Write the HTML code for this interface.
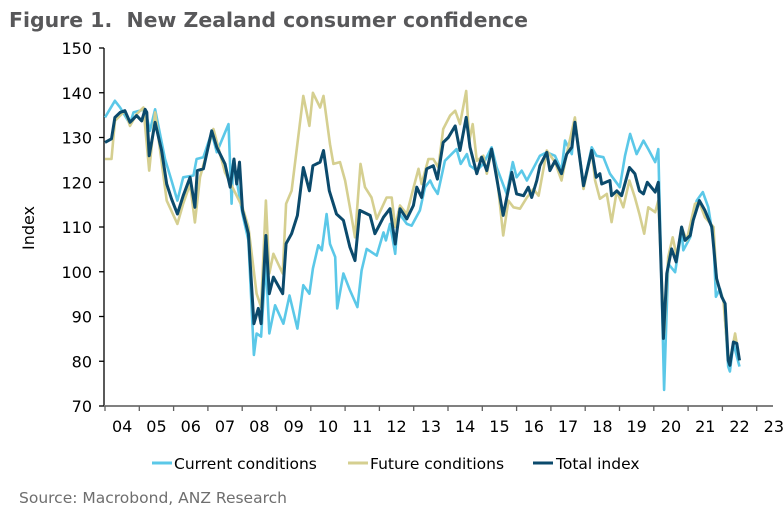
<!DOCTYPE html>
<html><head><meta charset="utf-8"><style>
html,body{margin:0;padding:0;background:#fff;}
svg{display:block;font-family:"DejaVu Sans","Liberation Sans",sans-serif;}
</style></head><body>
<svg id="chart" width="784" height="518" viewBox="0 0 784 518">
<text x="9" y="27" font-size="20" font-weight="bold" fill="#58585a" textLength="519" lengthAdjust="spacingAndGlyphs">Figure 1.&#160; New Zealand consumer confidence</text>
<text transform="translate(34,228) rotate(-90)" text-anchor="middle" font-size="16" fill="#000">Index</text>
<g id="yaxis"></g>
<g id="xaxis"></g>
<g id="series"></g>
<g>
<g><line x1="152" y1="463" x2="172" y2="463" stroke="#5bc8e8" stroke-width="3"/><text x="174" y="469" font-size="15.5">Current conditions</text></g>
<g><line x1="348" y1="463" x2="368" y2="463" stroke="#d5cf90" stroke-width="3"/><text x="370" y="469" font-size="15.5">Future conditions</text></g>
<g><line x1="533" y1="463" x2="553" y2="463" stroke="#0b4a6c" stroke-width="3"/><text x="556" y="469" font-size="15.5">Total index</text></g>
</g>
<text x="19" y="503" font-size="15.5" fill="#6e6e6e">Source: Macrobond, ANZ Research</text>
</svg>
<script>
const yTicks=[70,80,90,100,110,120,130,140,150];
const xYears=[2004,2005,2006,2007,2008,2009,2010,2011,2012,2013,2014,2015,2016,2017,2018,2019,2020,2021,2022,2023];
const xLabels=["04","05","06","07","08","09","10","11","12","13","14","15","16","17","18","19","20","21","22","23"];

const currentDates=[2004.00,2004.29,2004.44,2004.73,2004.83,2005.17,2005.31,2005.46,2005.75,2005.94,2006.11,2006.28,2006.58,2006.67,2006.87,2007.11,2007.26,2007.60,2007.69,2007.74,2008.01,2008.18,2008.34,2008.42,2008.55,2008.69,2008.79,2008.96,2009.20,2009.38,2009.61,2009.78,2009.96,2010.06,2010.22,2010.32,2010.46,2010.56,2010.71,2010.77,2010.95,2011.14,2011.36,2011.48,2011.63,2011.92,2012.12,2012.19,2012.31,2012.46,2012.55,2012.80,2012.94,2013.18,2013.33,2013.48,2013.57,2013.70,2013.91,2014.25,2014.37,2014.55,2014.64,2014.84,2015.03,2015.27,2015.42,2015.71,2015.89,2016.00,2016.15,2016.30,2016.68,2016.88,2017.12,2017.31,2017.41,2017.61,2017.70,2017.95,2018.19,2018.33,2018.53,2018.72,2019.01,2019.16,2019.31,2019.50,2019.70,2019.84,2020.04,2020.13,2020.30,2020.42,2020.62,2020.81,2020.86,2021.06,2021.25,2021.43,2021.59,2021.74,2021.81,2021.93,2022.05,2022.17,2022.22,2022.32,2022.50];
const currentValues=[134.5,138.2,136.7,133.0,135.6,136.3,131.5,136.3,125.2,120.4,115.9,121.1,121.5,125.2,125.6,131.1,126.7,133.0,115.2,124.8,112.9,107.0,81.4,86.2,85.5,102.5,86.2,92.5,88.4,94.7,87.3,97.0,95.1,100.7,105.9,104.8,112.9,106.2,103.3,91.8,99.6,95.9,92.1,100.3,105.1,103.6,108.8,107.0,110.7,104.0,113.3,110.7,110.3,113.7,118.9,120.4,118.9,117.4,124.8,127.4,124.1,126.3,123.7,122.6,124.1,127.8,123.3,117.4,124.5,121.1,122.6,120.4,125.9,126.7,125.9,122.6,129.3,126.3,134.1,119.2,127.8,125.9,125.6,121.9,118.9,125.9,130.8,126.3,129.3,127.4,124.5,127.4,73.6,101.8,99.9,109.2,104.8,107.7,115.9,117.8,114.4,107.0,94.4,96.2,92.9,78.8,77.7,84.0,78.8];

const futureDates=[2004.00,2004.19,2004.29,2004.44,2004.58,2004.73,2004.92,2005.12,2005.29,2005.46,2005.80,2006.11,2006.28,2006.48,2006.62,2006.77,2007.16,2007.50,2008.01,2008.18,2008.42,2008.55,2008.69,2008.79,2008.91,2009.18,2009.28,2009.44,2009.78,2009.96,2010.06,2010.27,2010.37,2010.56,2010.66,2010.85,2011.00,2011.14,2011.29,2011.45,2011.58,2011.77,2011.92,2012.21,2012.36,2012.46,2012.60,2012.80,2012.97,2013.14,2013.23,2013.43,2013.57,2013.72,2013.86,2014.06,2014.21,2014.35,2014.53,2014.62,2014.72,2014.84,2015.03,2015.13,2015.27,2015.42,2015.61,2015.76,2015.91,2016.10,2016.30,2016.49,2016.64,2016.88,2017.12,2017.31,2017.46,2017.70,2017.95,2018.19,2018.29,2018.43,2018.63,2018.77,2018.92,2019.11,2019.29,2019.45,2019.58,2019.72,2019.84,2020.04,2020.13,2020.30,2020.42,2020.55,2020.67,2020.81,2020.96,2021.20,2021.33,2021.49,2021.74,2021.83,2022.03,2022.17,2022.22,2022.37,2022.50];
const futureValues=[125.2,125.2,133.7,134.9,136.0,132.6,135.2,136.7,122.6,135.6,115.9,110.7,115.2,119.6,111.0,121.1,131.9,122.2,114.4,110.0,95.1,92.1,115.9,99.6,104.0,99.6,115.2,118.1,139.3,132.6,140.0,136.7,139.3,128.5,124.1,124.5,120.4,114.4,107.7,124.1,118.9,116.6,111.8,116.6,116.6,110.0,114.8,112.9,118.1,123.0,119.6,125.2,125.2,123.3,131.9,134.9,136.0,133.0,140.4,129.3,133.0,124.8,125.9,121.9,127.1,121.9,108.1,115.9,114.4,114.1,116.6,118.5,117.0,127.1,124.5,120.4,126.3,134.5,118.5,127.1,120.4,116.3,117.4,111.1,118.1,114.4,120.4,116.6,112.9,108.5,114.4,113.3,115.9,86.2,103.3,107.7,103.3,110.0,107.0,115.2,115.5,112.2,110.0,98.1,93.6,80.6,80.2,86.2,80.2];

const totalDates=[2004.00,2004.19,2004.29,2004.44,2004.58,2004.73,2004.92,2005.07,2005.17,2005.22,2005.29,2005.46,2005.65,2005.80,2005.94,2006.11,2006.28,2006.48,2006.62,2006.69,2006.87,2007.11,2007.26,2007.50,2007.65,2007.76,2007.84,2007.92,2008.01,2008.18,2008.34,2008.47,2008.55,2008.69,2008.79,2008.91,2009.18,2009.28,2009.44,2009.61,2009.78,2009.96,2010.06,2010.27,2010.37,2010.54,2010.75,2010.95,2011.14,2011.29,2011.43,2011.73,2011.87,2012.12,2012.31,2012.46,2012.60,2012.80,2012.99,2013.09,2013.23,2013.38,2013.57,2013.69,2013.86,2014.01,2014.21,2014.35,2014.53,2014.64,2014.84,2014.98,2015.13,2015.27,2015.61,2015.86,2016.00,2016.20,2016.34,2016.44,2016.59,2016.68,2016.88,2016.97,2017.12,2017.31,2017.46,2017.61,2017.70,2017.95,2018.19,2018.32,2018.43,2018.48,2018.72,2018.77,2018.92,2019.06,2019.29,2019.45,2019.58,2019.70,2019.81,2020.04,2020.13,2020.28,2020.38,2020.52,2020.65,2020.81,2020.91,2021.06,2021.15,2021.33,2021.49,2021.69,2021.83,2021.98,2022.08,2022.17,2022.22,2022.32,2022.42,2022.50];
const totalValues=[128.9,129.7,134.5,135.6,136.0,133.4,134.9,133.7,136.3,135.6,125.9,133.4,127.1,119.6,116.3,112.9,117.0,121.1,114.4,122.6,123.0,131.5,127.8,124.1,118.9,125.2,119.6,124.5,113.7,108.5,88.4,91.8,88.4,108.1,95.1,98.8,95.1,106.3,108.5,112.6,123.3,118.1,123.7,124.5,127.1,118.1,112.9,111.5,105.5,102.5,113.7,112.6,108.5,112.2,114.1,106.2,114.1,111.8,114.8,118.9,116.6,123.0,123.7,120.7,128.9,130.0,132.6,127.1,134.5,127.8,121.9,125.6,122.6,127.4,112.6,122.2,117.4,117.0,118.9,116.6,120.4,123.7,126.7,122.6,124.8,121.9,126.3,127.8,133.4,119.2,127.1,121.1,121.9,119.6,120.4,117.0,118.1,117.0,123.3,121.9,118.1,117.4,120.0,117.8,120.0,85.1,99.6,105.1,102.2,110.0,107.0,108.1,111.5,115.9,113.7,110.0,98.5,94.4,92.9,80.2,79.1,84.3,84.0,80.2];

const NS='http://www.w3.org/2000/svg';
const X0=105, YW=34.3, YT=48, YB=406, VMIN=70, VMAX=150;
function xs(t){return X0+(t-2004)*YW;}
function ys(v){return YB-(v-VMIN)/(VMAX-VMIN)*(YB-YT);}
function mk(tag,attrs,parent){const e=document.createElementNS(NS,tag);for(const k in attrs)e.setAttribute(k,attrs[k]);parent.appendChild(e);return e;}

const yg=document.getElementById('yaxis');
mk('line',{x1:104,y1:YT,x2:104,y2:YB,stroke:'#000','stroke-width':1.3},yg);
yTicks.forEach(v=>{
  const tk=mk('line',{x1:99,y1:ys(v),x2:104,y2:ys(v),stroke:'#000','stroke-width':1.3},yg);
  
  
  const t=mk('text',{x:92,y:ys(v)+6,'text-anchor':'end','font-size':16,fill:'#000'},yg);
  t.textContent=v;
  
  
});
const xg=document.getElementById('xaxis');
mk('line',{x1:104,y1:YB,x2:773,y2:YB,stroke:'#808080','stroke-width':2},xg);
xYears.forEach((yr,i)=>{
  const tk=mk('line',{x1:xs(yr),y1:YB,x2:xs(yr),y2:YB+5,stroke:'#606060','stroke-width':1.3},xg);
  
  
  const t=mk('text',{x:xs(yr+0.5),y:YB+26,'text-anchor':'middle','font-size':16,fill:'#000'},xg);
  t.textContent=xLabels[i];
  
  
});
const sg=document.getElementById('series');
function drawLine(dates,vals,color,w,name){
  const d=dates.map((t,i)=>(i?'L':'M')+xs(t).toFixed(1)+','+ys(vals[i]).toFixed(1)).join('');
  const p=mk('path',{d:d,fill:'none',stroke:color,'stroke-width':w,'stroke-linejoin':'round'},sg);
  
  
}
drawLine(currentDates,currentValues,'#5bc8e8',2.6,'current-conditions-line');
drawLine(futureDates,futureValues,'#d5cf90',2.6,'future-conditions-line');
drawLine(totalDates,totalValues,'#0b4a6c',3,'total-index-line');
</script>
</body></html>
